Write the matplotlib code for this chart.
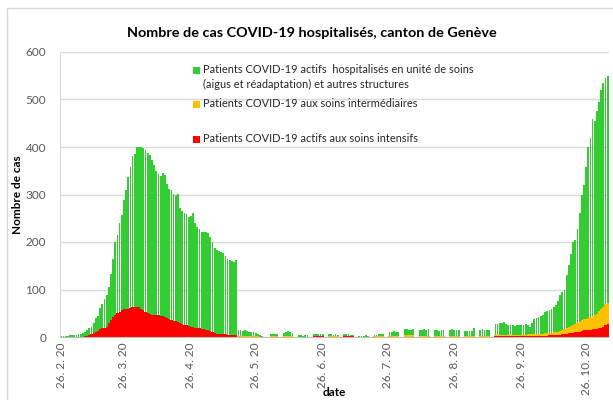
import matplotlib
matplotlib.use("Agg")
import matplotlib.pyplot as plt
from matplotlib.patches import Rectangle
import numpy as np
import pandas as pd

plt.rcParams['font.family'] = ['Lato', 'DejaVu Sans']

# ---- data, one value per day from 26.2.2020 ----
start_date = "2020-02-26"

icu = [
    0, 0, 0, 0, 0, 0, 0, 0, 0, 0,
    0, 2, 3, 4, 6, 8, 10, 12, 17, 18,
    20, 22, 30, 35, 42, 46, 50, 53, 56, 58,
    60, 60, 62, 63, 64, 63, 63, 60, 56, 53,
    50, 49, 47, 46, 46, 46, 45, 44, 42, 40,
    38, 36, 34, 33, 31, 29, 27, 26, 25, 23,
    22, 21, 20, 19, 18, 17, 16, 15, 14, 12,
    10, 8, 7, 7, 6, 6, 6, 5, 5, 4,
    4, 4, 1, 1, 1, 1, 1, 1, 1, 1,
    1, 1, 0, 0, 0, 0, 0, 0, 0, 0,
    0, 0, 0, 1, 1, 1, 1, 1, 0, 0,
    0, 0, 0, 0, 0, 0, 0, 2, 2, 2,
    2, 2, 0, 0, 1, 1, 1, 1, 1, 0,
    0, 2, 2, 2, 2, 2, 0, 0, 0, 0,
    0, 0, 0, 0, 0, 0, 0, 0, 0, 0,
    0, 0, 1, 1, 1, 1, 1, 0, 0, 1,
    1, 1, 1, 1, 0, 0, 1, 1, 1, 1,
    1, 0, 0, 1, 1, 1, 1, 1, 0, 0,
    1, 1, 1, 1, 1, 0, 0, 1, 1, 1,
    1, 1, 0, 0, 1, 1, 1, 1, 1, 0,
    0, 2, 2, 2, 2, 2, 2, 2, 2, 2,
    2, 2, 2, 2, 2, 2, 3, 3, 3, 3,
    3, 3, 3, 3, 3, 3, 4, 4, 4, 4,
    5, 5, 6, 6, 7, 8, 8, 9, 10, 10,
    11, 12, 14, 14, 15, 15, 16, 16, 17, 18,
    19, 22, 25, 28,
]

intermediate = [
    0, 0, 0, 0, 0, 0, 0, 0, 0, 0,
    0, 0, 0, 0, 0, 0, 0, 0, 0, 0,
    0, 0, 0, 0, 0, 0, 0, 0, 0, 0,
    0, 0, 0, 0, 0, 0, 0, 0, 0, 0,
    0, 0, 0, 0, 0, 0, 0, 0, 0, 0,
    0, 0, 0, 0, 0, 0, 0, 0, 0, 0,
    0, 0, 0, 0, 0, 0, 0, 0, 0, 0,
    0, 0, 0, 0, 0, 0, 0, 0, 0, 0,
    0, 0, 2, 2, 2, 2, 2, 1, 1, 2,
    2, 1, 1, 1, 0, 0, 0, 2, 2, 2,
    2, 0, 0, 2, 2, 2, 2, 2, 0, 0,
    1, 1, 1, 1, 1, 0, 0, 1, 1, 1,
    1, 1, 0, 0, 2, 2, 2, 2, 2, 0,
    0, 1, 1, 1, 1, 1, 0, 0, 1, 1,
    1, 1, 1, 0, 0, 2, 2, 2, 2, 2,
    0, 0, 2, 2, 2, 2, 2, 0, 0, 3,
    3, 3, 3, 3, 0, 0, 2, 2, 2, 2,
    2, 0, 0, 2, 2, 2, 2, 2, 0, 0,
    2, 2, 2, 2, 2, 0, 0, 2, 2, 2,
    2, 2, 0, 0, 2, 2, 2, 2, 2, 0,
    0, 3, 3, 3, 3, 3, 3, 3, 3, 3,
    3, 3, 3, 3, 3, 3, 4, 4, 4, 4,
    4, 4, 4, 4, 5, 5, 5, 5, 6, 6,
    6, 7, 8, 10, 11, 13, 15, 16, 18, 20,
    21, 23, 23, 24, 25, 27, 29, 31, 32, 36,
    41, 42, 45, 44,
]

ward = [
    2, 2, 3, 3, 4, 4, 5, 5, 6, 7,
    8, 8, 11, 14, 15, 22, 30, 33, 45, 52,
    60, 66, 75, 97, 123, 154, 165, 187, 200, 230,
    250, 277, 296, 317, 321, 337, 337, 339, 342, 341,
    338, 334, 325, 316, 304, 297, 295, 302, 300, 283,
    274, 274, 268, 265, 269, 243, 238, 236, 233, 230,
    233, 239, 220, 213, 210, 205, 204, 207, 206, 198,
    190, 180, 177, 175, 172, 170, 164, 160, 157, 156,
    154, 158, 12, 11, 10, 11, 9, 9, 8, 7,
    6, 5, 4, 2, 0, 0, 0, 5, 5, 4,
    4, 0, 0, 5, 7, 9, 8, 6, 0, 0,
    3, 3, 2, 3, 3, 0, 0, 3, 4, 4,
    3, 3, 0, 0, 3, 3, 2, 3, 2, 0,
    0, 3, 4, 3, 2, 2, 0, 0, 2, 2,
    2, 3, 2, 0, 0, 2, 3, 4, 4, 5,
    0, 0, 7, 8, 9, 8, 7, 0, 0, 12,
    13, 10, 11, 13, 0, 0, 12, 11, 13, 12,
    14, 0, 0, 12, 12, 10, 11, 11, 0, 0,
    12, 13, 12, 11, 12, 0, 0, 10, 9, 10,
    9, 17, 0, 0, 12, 13, 12, 12, 12, 0,
    0, 23, 23, 24, 25, 27, 22, 20, 20, 20,
    19, 21, 20, 21, 21, 22, 18, 15, 23, 31,
    33, 35, 37, 39, 44, 47, 47, 51, 54, 58,
    65, 76, 81, 84, 112, 131, 152, 175, 177, 198,
    230, 263, 283, 320, 360, 378, 413, 408, 426, 441,
    460, 471, 475, 478,
]

labels = [
    "Patients COVID-19 actifs  hospitalisés en unité de soins\n(aigus et réadaptation) et autres structures",
    "Patients COVID-19 aux soins intermédiaires",
    "Patients COVID-19 actifs aux soins intensifs",
]
title = "Nombre de cas COVID-19 hospitalisés, canton de Genève"

assert len(icu) == len(intermediate) == len(ward)

dates = pd.date_range(start_date, periods=len(ward), freq="D")
x = np.arange(len(ward))
icu_a = np.array(icu)
int_a = np.array(intermediate)
ward_a = np.array(ward)

GREEN = "#33CC33"
ORANGE = "#FFC000"
RED = "#FF0000"
GRID = "#D9D9D9"
TXT = "#595959"

fig = plt.figure(figsize=(6.13, 4.0), dpi=100)
# outer chart frame
fig.patches.append(Rectangle((7 / 613, -0.05), 1.2, 1 - 8 / 400 + 0.05,
                             transform=fig.transFigure, fill=False,
                             edgecolor=GRID, linewidth=1.0))

ax = fig.add_axes([60 / 613, 63 / 400, 549 / 613, 285 / 400])

ax.bar(x, icu_a, width=1.0, color=RED, linewidth=0)
ax.bar(x, int_a, bottom=icu_a, width=1.0, color=ORANGE, linewidth=0)
ax.bar(x, ward_a, bottom=icu_a + int_a, width=0.82, color=GREEN, linewidth=0)

ax.set_xlim(-0.6, len(ward) - 0.4)
ax.set_ylim(0, 600)
ax.set_yticks(range(0, 601, 100))
ax.yaxis.grid(True, color=GRID, linewidth=1.0)
ax.set_axisbelow(True)

tick_idx = [i for i, d in enumerate(dates) if d.day == 26]
ax.set_xticks(tick_idx)
ax.set_xticklabels([f"{d.day}. {d.month}. {d.strftime('%y')}" for d in dates[tick_idx]],
                   rotation=90, fontsize=8.5, color=TXT)
ax.tick_params(axis="x", length=0, pad=4)
ax.tick_params(axis="y", length=0, pad=10, labelsize=8.5, labelcolor=TXT)

for s in ["top", "right"]:
    ax.spines[s].set_visible(False)
ax.spines["left"].set_color(GRID)
ax.spines["bottom"].set_color("#BFBFBF")

ax.set_ylabel("Nombre de cas", fontsize=8.5, fontweight="bold", labelpad=2)
fig.text(334 / 613, 1 - 393 / 400, "date", ha="center", va="center",
         fontsize=8.5, fontweight="bold")

fig.text(312 / 613, 1 - 33 / 400, title, ha="center", va="center",
         fontsize=10.4, fontweight="bold", color="#000000")

# legend (manual, inside the plot)
entries = [(GREEN, labels[0], 70), (ORANGE, labels[1], 104), (RED, labels[2], 139)]
for col, lab, ypix in entries:
    fig.patches.append(Rectangle((193 / 613, 1 - (ypix + 3.5) / 400), 7 / 613, 7 / 400,
                                 transform=fig.transFigure, facecolor=col,
                                 edgecolor="none"))
    fig.text(203 / 613, 1 - (ypix - 6) / 400, lab, ha="left", va="top",
             fontsize=7.9, color="#262626", linespacing=1.45)

fig.savefig("out.png", dpi=100)
